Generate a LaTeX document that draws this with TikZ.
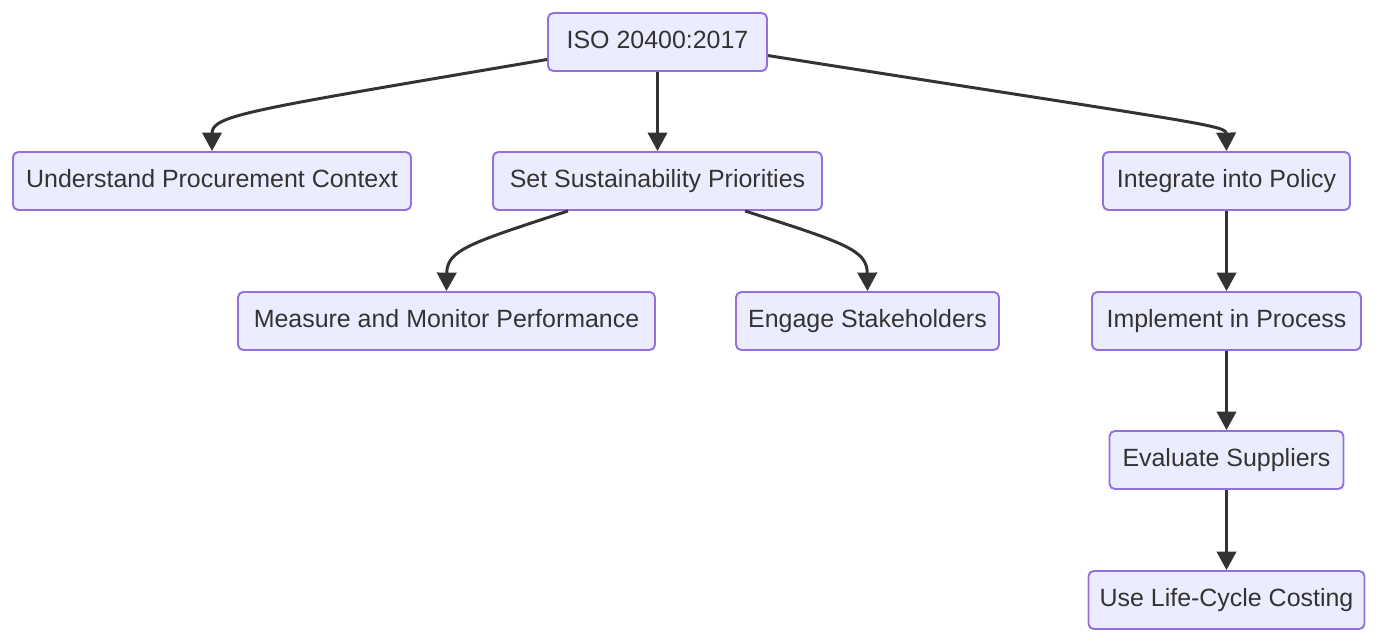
\documentclass[tikz,border=0pt]{standalone}
\usepackage{fontspec}
\setmainfont{Liberation Sans}
\usetikzlibrary{arrows.meta}
\definecolor{boxfill}{HTML}{ECECFF}
\definecolor{boxline}{HTML}{9370DB}
\definecolor{ink}{HTML}{333333}
\tikzset{
  flowbox/.style={draw=boxline, fill=boxfill, line width=1.1pt, rounded corners=3pt,
    minimum height=1.16cm, inner xsep=0pt, text height=10.5pt, text depth=3pt,
    text=ink, font=\fontsize{14.2}{17}\selectfont},
  arr/.style={-{Triangle[length=10.5pt,width=11pt]}, line width=1.7pt, draw=ink}
}
\begin{document}
\begin{tikzpicture}[x=0.02cm,y=-0.02cm]
  \useasboundingbox (0,0) rectangle (1379,642);
  \foreach \n/\x/\y/\w/\lab in {iso/657.5/42/219/ISO 20400:2017,
      und/212/181/398/Understand Procurement Context,
      set/657.5/181/329/Set Sustainability Priorities,
      integ/1226.5/181/247/Integrate into Policy,
      meas/446.5/321/417/Measure and Monitor Performance,
      eng/867.5/321/263/Engage Stakeholders,
      impl/1226.5/321/269/Implement in Process,
      eval/1226.5/460/234/Evaluate Suppliers,
      lcc/1226.5/600/276/Use Life-Cycle Costing} {
    \node[flowbox, minimum width=\w*0.02cm] (\n) at (\x,\y) {\lab};
  }
  % top level
  \draw[arr] (iso.189) .. controls (250,110) and (212,115) .. (und.north);
  \draw[arr] (iso) -- (set);
  \draw[arr] (iso.353) .. controls (1190,122) and (1226,125) .. (integ.north);
  % priorities
  \draw[arr] ([xshift=-89.5*0.02cm]set.south) .. controls (470,243) and (447,250) .. (meas.north);
  \draw[arr] ([xshift=87.5*0.02cm]set.south) .. controls (845,243) and (867,250) .. (eng.north);
  % policy chain
  \draw[arr] (integ) -- (impl);
  \draw[arr] (impl) -- (eval);
  \draw[arr] (eval) -- (lcc);
\end{tikzpicture}
\end{document}
